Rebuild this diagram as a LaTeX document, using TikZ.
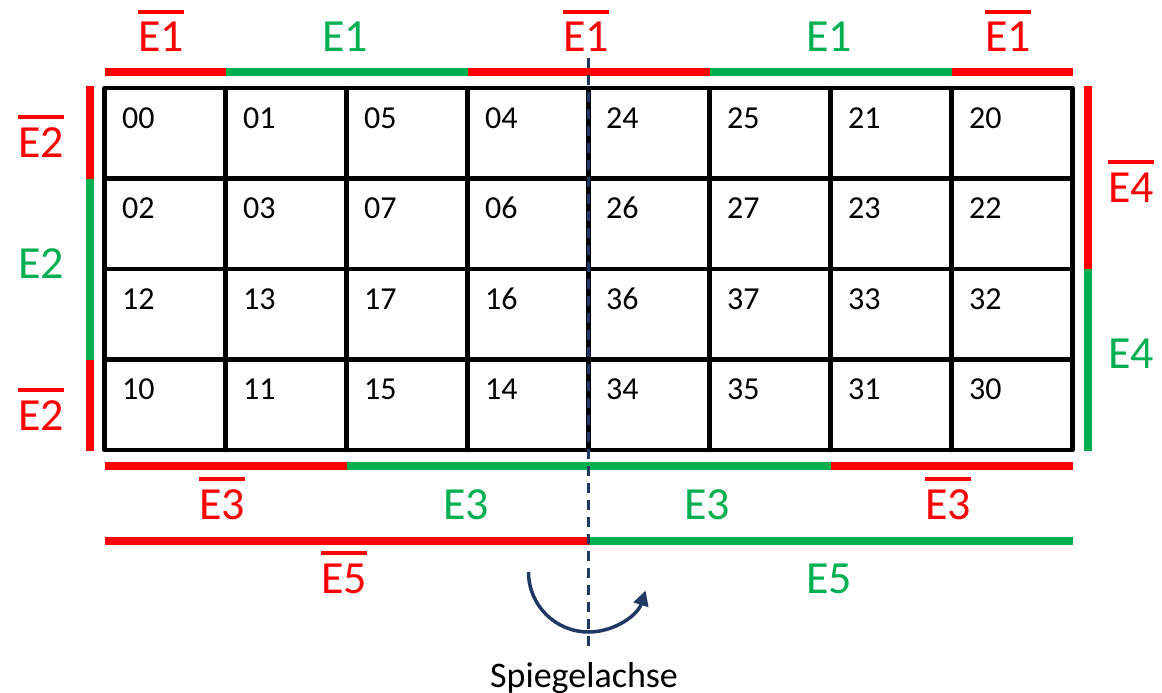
\documentclass[tikz,border=0pt]{standalone}
\usepackage{fontspec}
\setmainfont{Carlito}
\usetikzlibrary{arrows.meta}
\definecolor{kred}{HTML}{FF0000}
\definecolor{kgreen}{HTML}{00B050}
\definecolor{knavy}{HTML}{1F3864}
\newcommand\ovl[1]{\vbox{\hrule height 4pt\kern 8pt\hbox{#1}}}
\begin{document}
\begin{tikzpicture}[x=1pt,y=-1pt,
  gridline/.style={line width=4.5pt,black,line join=round,line cap=round},
  bar/.style={line width=8pt,line cap=butt},
  lab/.style={font=\fontsize{46}{50}\selectfont,inner sep=0pt,anchor=base},
  cellnum/.style={font=\fontsize{32}{38}\selectfont,inner sep=0pt,anchor=base west},
  axis/.style={knavy,line width=3.5pt,dash pattern=on 10pt off 7pt}]
\useasboundingbox (0,0) rectangle (1162,693);
% grid
\draw[gridline] (104.5,88) rectangle (1072.5,450);
\foreach \c in {1,...,7} \draw[gridline] (104.5+121*\c,88) -- (104.5+121*\c,450);
\foreach \r in {1,2,3} \draw[gridline] (104.5,88+90.5*\r) -- (1072.5,88+90.5*\r);
% cell numbers
\foreach \row/\vals in {0/{00,01,05,04,24,25,21,20},1/{02,03,07,06,26,27,23,22},2/{12,13,17,16,36,37,33,32},3/{10,11,15,14,34,35,31,30}}{
  \foreach \v [count=\c from 0] in \vals {
    \node[cellnum] (n\row\c) at (122+121*\c,128+90.5*\row) {\v};
  }
}
% top bar E1
\draw[bar,kred] (104.5,72) -- (225.5,72);
\draw[bar,kgreen] (225.5,72) -- (467.5,72);
\draw[bar,kred] (467.5,72) -- (709.5,72);
\draw[bar,kgreen] (709.5,72) -- (951.5,72);
\draw[bar,kred] (951.5,72) -- (1072.5,72);
\node[lab,kred] (e1a) at (161,52) {\ovl{E1}};
\node[lab,kgreen] (e1b) at (345,52) {E1};
\node[lab,kred] (e1c) at (586,52) {\ovl{E1}};
\node[lab,kgreen] (e1d) at (829,52) {E1};
\node[lab,kred] (e1e) at (1008,52) {\ovl{E1}};
% left bar E2
\draw[bar,kred] (89.5,86) -- (89.5,178.5);
\draw[bar,kgreen] (89.5,178.5) -- (89.5,359.5);
\draw[bar,kred] (89.5,359.5) -- (89.5,451);
\node[lab,kred] (e2a) at (41,157) {\ovl{E2}};
\node[lab,kgreen] (e2b) at (41,278) {E2};
\node[lab,kred] (e2c) at (41,430) {\ovl{E2}};
% right bar E4
\draw[bar,kred] (1087.5,86) -- (1087.5,269);
\draw[bar,kgreen] (1087.5,269) -- (1087.5,451);
\node[lab,kred] (e4a) at (1131,202) {\ovl{E4}};
\node[lab,kgreen] (e4b) at (1131,368) {E4};
% bottom bar E3
\draw[bar,kred] (104.5,466) -- (346.5,466);
\draw[bar,kgreen] (346.5,466) -- (830.5,466);
\draw[bar,kred] (830.5,466) -- (1072.5,466);
\node[lab,kred] (e3a) at (222,519) {\ovl{E3}};
\node[lab,kgreen] (e3b) at (466,519) {E3};
\node[lab,kgreen] (e3c) at (707,519) {E3};
\node[lab,kred] (e3d) at (948,519) {\ovl{E3}};
% E5 bar
\draw[bar,kred] (104.5,541) -- (588.5,541);
\draw[bar,kgreen] (588.5,541) -- (1072.5,541);
\node[lab,kred] (e5a) at (344,593) {\ovl{E5}};
\node[lab,kgreen] (e5b) at (829,593) {E5};
% mirror axis
\coordinate (axtop) at (588.5,58);
\coordinate (axbot) at (588.5,653);
\draw[axis] (axtop) -- (axbot);
\coordinate (arcstart) at (528.5,572);
\draw[knavy,line width=3.5pt,-{Triangle[length=15pt,width=15pt]}] (arcstart) arc[start angle=180,end angle=18,radius=60];
\node[font=\fontsize{36}{40}\selectfont,inner sep=0pt,anchor=base] (spiegel) at (584,687) {Spiegelachse};
\end{tikzpicture}
\end{document}
